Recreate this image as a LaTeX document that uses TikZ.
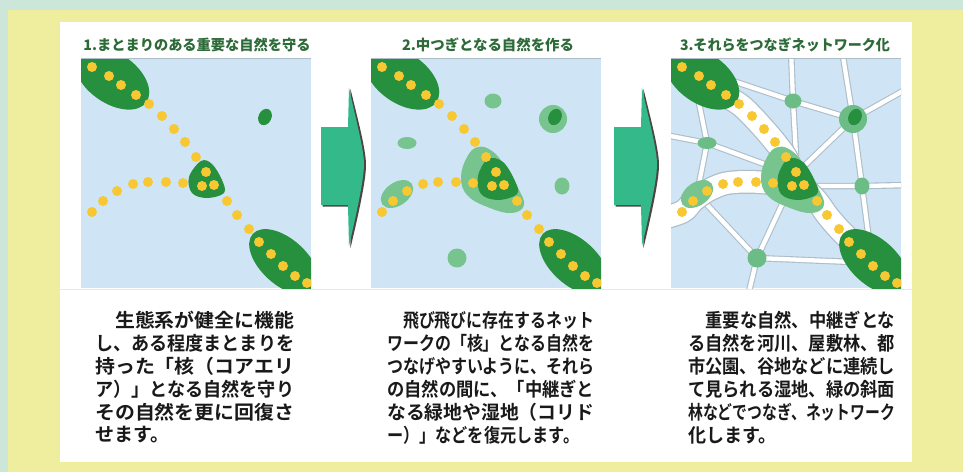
\documentclass[tikz,border=0pt]{standalone}
\usepackage{fontspec}
\usepackage{graphicx}
\newfontfamily\jpbody{Noto Sans CJK JP Bold}
\newfontfamily\jptitle{Noto Sans CJK JP Black}

\definecolor{mintbg}{HTML}{CCE7D9}
\definecolor{paleyellow}{HTML}{EFEE9F}
\definecolor{mapblue}{HTML}{CFE5F5}
\definecolor{darkgreen}{HTML}{27903E}
\definecolor{lightgreen}{HTML}{78C48E}
\definecolor{nodegreen}{HTML}{6CBC86}
\definecolor{dotyellow}{HTML}{F8C832}
\definecolor{arrowgreen}{HTML}{33B98A}
\definecolor{arrowshadow}{HTML}{4E4444}
\definecolor{roadedge}{HTML}{AEBEC9}
\definecolor{titlegreen}{HTML}{2C6A37}
\definecolor{sepline}{HTML}{F2EDB8}

\tikzset{
  yellowdot/.style={fill=dotyellow},
  roadcasing/.style={draw=roadedge, line width=6.5pt, line cap=round, line join=round},
  roadcore/.style={draw=white, line width=4.3pt, line cap=round, line join=round},
  corridorcasing/.style={draw=roadedge, line width=24pt, line cap=round},
  corridorcore/.style={draw=white, line width=21.5pt, line cap=round},
  titletext/.style={font=\jptitle\fontsize{14.5}{16}\selectfont, text=titlegreen, inner sep=0pt},
  bodyline/.style={font=\jpbody\fontsize{19}{21}\selectfont, text=black!90, inner sep=0pt, anchor=west},
}

% core areas shared by all three maps
\newcommand\coreblobs[1]{%
  \fill[darkgreen, rotate around={-35:(112,78)}] (112,78) ellipse [x radius=42pt, y radius=25pt];
  \fill[darkgreen, rotate around={-42:(284,262)}] (284,262) ellipse [x radius=42pt, y radius=23pt];
  \fill[darkgreen] plot[smooth cycle, tension=0.6] coordinates {#1};
  \fill[darkgreen, rotate around={-25:(265,117)}] (265,117) ellipse [x radius=6.5pt, y radius=8.5pt];
}
\newcommand\coredots{%
  \foreach \p in {(92,67),(109,76),(121,85),(136,95),
                  (149,104),(162,116),(174,129),(185,142),(196,157),
                  (206,172),(202,186),(214,185),
                  (227,201),(237,215),(249,229),
                  (259,242),(271,254),(283,266),(295,276),(307,283),
                  (92,212),(103,201),(117,191),(133,184),(148,182),(166,182),(183,183)}
    \fill[yellowdot] \p circle[radius=5pt];
}
% restored stepping-stone habitats
\newcommand\steppingstones[1]{%
  \fill[lightgreen] plot[smooth cycle, tension=0.7] coordinates
    {(188,147) (202,151) (215,166) (228,188) (234,205) (222,213) (200,208) (178,196) (171,178) (177,157)};
  \fill[lightgreen, rotate around={35:(107,194)}] (107,194) ellipse [x radius=18pt, y radius=11.5pt];
  \fill[#1] (203,101) ellipse [x radius=8.5pt, y radius=7.5pt];
  \fill[#1] (263,119) circle [radius=14pt];
  \fill[#1] (117,143) ellipse [x radius=9.5pt, y radius=6pt];
  \fill[#1] (272,186) ellipse [x radius=7.5pt, y radius=8.5pt];
  \fill[#1] (167,258) circle [radius=9.5pt];
}
% network of rivers, hedgerows and parks
\newcommand\roadnet[1]{%
  \draw[#1] (201,50) -- (203,101) -- (206,155);
  \draw[#1] (140,80) -- (203,101) -- (263,119);
  \draw[#1] (252,50) -- (263,119) -- (320,87);
  \draw[#1] (263,119) -- (272,186) -- (320,185);
  \draw[#1] (263,119) -- (212,168);
  \draw[#1] (218,186) -- (272,186) -- (279,240);
  \draw[#1] (70,134) -- (117,143) -- (185,168);
  \draw[#1] (108,98) -- (117,143) -- (107,194);
  \draw[#1] (107,194) -- (167,258) -- (157,300);
  \draw[#1] (195,198) -- (167,258) -- (262,262);
}
\newcommand\corridors[1]{%
  \draw[#1] plot[smooth] coordinates {(125,90) (149,104) (162,116) (174,129) (185,142) (196,157) (206,178) (227,201) (237,215) (249,229) (265,245)};
  \draw[#1] plot[smooth] coordinates {(60,222) (92,212) (103,201) (117,191) (133,184) (148,182) (166,182) (183,183) (200,183)};
}
% arrow between two maps
\newcommand\steparrow{%
  \fill[arrowshadow] (322.5,128.5) -- (349.5,128.5) -- (350.5,89)
    .. controls (358,120) and (366,150) .. (366,165)
    .. controls (366,181) and (358,216) .. (350.5,248) -- (349.5,206.5) -- (322.5,206.5) -- cycle;
  \fill[arrowgreen] (321,127) -- (348,127) -- (349,88)
    .. controls (356,120) and (364,150) .. (364,164)
    .. controls (364,180) and (356,215) .. (349,246) -- (348,205) -- (321,205) -- cycle;
}

\begin{document}
\begin{tikzpicture}[x=1pt, y=-1pt]
\useasboundingbox (0,0) rectangle (963,472);
\fill[mintbg] (0,0) rectangle (963,472);
\fill[paleyellow] (8,10) rectangle (963,472);
\fill[white] (60,22) rectangle (912,462);
\draw[sepline, line width=1.5pt] (60,289.5) -- (912,289.5);

% titles
\node[titletext] (t1) at (197,45) {\resizebox{227pt}{\height}{1.まとまりのある重要な自然を守る}};
\node[titletext] (t2) at (488,45) {\resizebox{172pt}{\height}{2.中つぎとなる自然を作る}};
\node[titletext] (t3) at (785,45) {\resizebox{210pt}{\height}{3.それらをつなぎネットワーク化}};

% map 1: protect the core areas
\begin{scope}
  \clip (81,58) rectangle (311,288);
  \fill[mapblue] (81,58) rectangle (311,288);
  \coreblobs{(201,161) (212,164) (222,180) (224,193) (207,198) (192,193) (189,177)}
  \coredots
\end{scope}
\draw[roadedge, line width=0.6pt] (81,58.3) -- (311,58.3);

% map 2: add stepping stones
\begin{scope}[xshift=290pt]
  \clip (81,58) rectangle (311,288);
  \fill[mapblue] (81,58) rectangle (311,288);
  \steppingstones{lightgreen}
  \coreblobs{(198,159) (213,162) (225,181) (227,194) (208,200) (191,194) (188,176)}
  \coredots
\end{scope}
\draw[roadedge, line width=0.6pt] (371,58.3) -- (601,58.3);

% map 3: link everything into a network
\begin{scope}[xshift=590pt]
  \clip (81,58) rectangle (311,288);
  \fill[mapblue] (81,58) rectangle (311,288);
  \roadnet{roadcasing}
  \roadnet{roadcore}
  \corridors{corridorcasing}
  \corridors{corridorcore}
  \steppingstones{nodegreen}
  \coreblobs{(198,159) (213,162) (225,181) (227,194) (208,200) (191,194) (188,176)}
  \coredots
\end{scope}
\draw[roadedge, line width=0.6pt] (671,58.3) -- (901,58.3);

% arrows
\steparrow
\begin{scope}[xshift=293pt]
  \steparrow
\end{scope}

% descriptions
\node[bodyline] (a1) at (95,320) {\resizebox{199pt}{\height}{　生態系が健全に機能}};
\node[bodyline] (a2) at (95,343) {\resizebox{199pt}{\height}{し、ある程度まとまりを}};
\node[bodyline] (a3) at (95,366) {\resizebox{199pt}{\height}{持った「核（コアエリ}};
\node[bodyline] (a4) at (95,389) {\resizebox{199pt}{\height}{ア）」となる自然を守り}};
\node[bodyline] (a5) at (95,412) {\resizebox{199pt}{\height}{その自然を更に回復さ}};
\node[bodyline] (a6) at (95,435) {せます。};

\node[bodyline] (b1) at (387,320) {\resizebox{207pt}{\height}{　飛び飛びに存在するネット}};
\node[bodyline] (b2) at (387,343) {\resizebox{207pt}{\height}{ワークの「核」となる自然を}};
\node[bodyline] (b3) at (387,366) {\resizebox{207pt}{\height}{つなげやすいように、それら}};
\node[bodyline] (b4) at (387,389) {\resizebox{207pt}{\height}{の自然の間に、「中継ぎと}};
\node[bodyline] (b5) at (387,412) {\resizebox{207pt}{\height}{なる緑地や湿地（コリド}};
\node[bodyline] (b6) at (387,435) {\scalebox{0.85}[1]{ー）」などを復元します。}};

\node[bodyline] (c1) at (688,320) {\resizebox{207pt}{\height}{　重要な自然、中継ぎとな}};
\node[bodyline] (c2) at (688,343) {\resizebox{207pt}{\height}{る自然を河川、屋敷林、都}};
\node[bodyline] (c3) at (688,366) {\resizebox{207pt}{\height}{市公園、谷地などに連続し}};
\node[bodyline] (c4) at (688,389) {\resizebox{207pt}{\height}{て見られる湿地、緑の斜面}};
\node[bodyline] (c5) at (688,412) {\resizebox{207pt}{\height}{林などでつなぎ、ネットワーク}};
\node[bodyline] (c6) at (688,435) {\scalebox{0.95}[1]{化します。}};
\end{tikzpicture}
\end{document}
